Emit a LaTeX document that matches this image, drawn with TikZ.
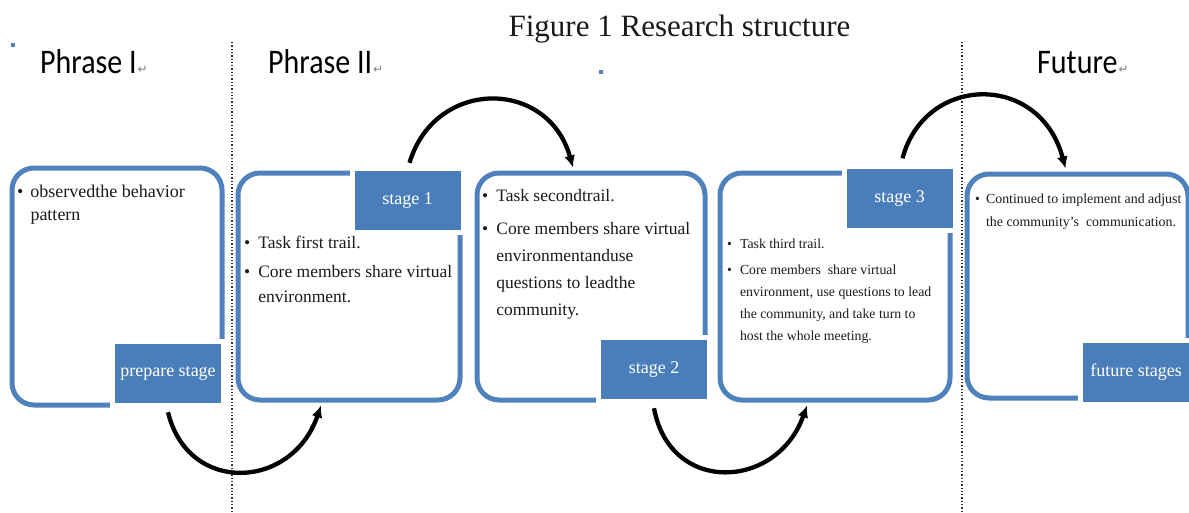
\documentclass[tikz,border=0pt]{standalone}
\usepackage{fontspec}
\setmainfont{Liberation Serif}
\newfontfamily\calibrifont{Carlito}
\newfontfamily\symfont{DejaVu Sans}
\usetikzlibrary{arrows.meta}
\definecolor{boxblue}{HTML}{4F81BD}
\definecolor{tagblue}{HTML}{4A7EBB}
\definecolor{inkgray}{HTML}{1A1A1A}
\newcommand{\retmark}{\hspace{1pt}{\symfont\fontsize{12}{12}\selectfont\color{gray}↵}}
\begin{document}
\begin{tikzpicture}[x=1pt,y=-1pt,
  panel/.style={draw=boxblue, line width=5pt, rounded corners=22pt, inner sep=0pt},
  tag/.style={fill=tagblue, text=white, inner sep=0pt, minimum width=106pt, minimum height=59pt,
    font=\fontsize{18}{20}\selectfont, preaction={draw=white, line width=10pt}},
  phase/.style={font=\calibrifont\fontsize{30}{30}\selectfont, text=black, inner sep=0pt, anchor=base west},
  body/.style={text=inkgray, inner sep=0pt, anchor=base west},
  divider/.style={dotted, line width=1.3pt, black!80},
  flow/.style={line width=4.3pt, -{Latex[length=12pt,width=11pt]}},
  marker/.style={fill=boxblue, inner sep=0pt, minimum size=4pt},
]
\useasboundingbox (0,0) rectangle (1189,512);

% dividers
\coordinate (d1t) at (232,42); \coordinate (d1b) at (232,512);
\coordinate (d2t) at (962,42); \coordinate (d2b) at (962,512);
\draw[divider] (d1t) -- (d1b);
\draw[divider] (d2t) -- (d2b);

% title and headings
\node[font=\fontsize{31}{31}\selectfont, text=inkgray, inner sep=0pt, anchor=base] (title) at (679.5,36) {Figure 1 Research structure};
\node[phase] (h1) at (40,73) {\scalebox{1}[1.15]{Phrase I}\retmark};
\node[phase] (h2) at (268,73) {\scalebox{1}[1.15]{Phrase II}\retmark};
\node[phase] (h3) at (1037,73) {\scalebox{1}[1.15]{Future}\retmark};
\node[marker] (m1) at (13,45) {};
\node[marker] (m2) at (601,72) {};

% panels
\node[panel, minimum width=210pt, minimum height=237pt] (b1) at (117,286.5) {};
\node[panel, minimum width=222pt, minimum height=227pt] (b2) at (349,286.5) {};
\node[panel, minimum width=228pt, minimum height=227pt] (b3) at (591,286.5) {};
\node[panel, minimum width=230pt, minimum height=227pt] (b4) at (835,286.5) {};
\node[panel, minimum width=221pt, minimum height=224pt] (b5) at (1077.5,286) {};

% tags
\node[tag] (l1) at (168,373.5) {prepare stage};
\node[tag] (l2) at (407.5,200.5) {stage 1};
\node[tag] (l3) at (654,369.5) {stage 2};
\node[tag] (l4) at (899.5,198) {stage 3};
\node[tag] (l5) at (1136,372) {future stages};

% texts
\node[body, font=\fontsize{18}{23}\selectfont] (t1) at (17,197)
  {\begin{tabular}[t]{@{}l@{\hspace{7pt}}l@{}}\textbullet & observedthe behavior\\ & pattern\end{tabular}};
\node[body, font=\fontsize{17.5}{25}\selectfont] (t2) at (244,248)
  {\begin{tabular}[t]{@{}l@{\hspace{8pt}}l@{}}\textbullet & Task first trail.\\[4pt]
   \textbullet & Core members share virtual\\ & environment.\end{tabular}};
\node[body, font=\fontsize{17.5}{27}\selectfont] (t3) at (482,201)
  {\begin{tabular}[t]{@{}l@{\hspace{8pt}}l@{}}\textbullet & Task secondtrail.\\[6pt]
   \textbullet & Core members share virtual\\ & environmentanduse\\ & questions to leadthe\\ & community.\end{tabular}};
\node[body, font=\fontsize{13.8}{22}\selectfont] (t4) at (727,248)
  {\begin{tabular}[t]{@{}l@{\hspace{8pt}}l@{}}\textbullet & Task third trail.\\[4pt]
   \textbullet & Core members\ \ share virtual\\ & environment, use questions to lead\\ & the community, and take turn to\\ & host the whole meeting.\end{tabular}};
\node[body, font=\fontsize{13.9}{23}\selectfont] (t5) at (975,203)
  {\begin{tabular}[t]{@{}l@{\hspace{6pt}}l@{}}\textbullet & Continued to implement and adjust\\ & the community’s\ \ communication.\end{tabular}};

% flows
\draw[flow] ([yshift=-9pt]l1.south) .. controls (188,495) and (292,490) .. ([xshift=-28pt,yshift=-3pt]b2.south);
\draw[flow] ([xshift=2pt,yshift=8pt]l2.north) .. controls (435,78) and (548,78) .. ([xshift=-18pt,yshift=3pt]b3.north);
\draw[flow] ([yshift=-9pt]l3.south) .. controls (670,495) and (777,490) .. ([xshift=-28pt,yshift=-3pt]b4.south);
\draw[flow] ([xshift=3pt,yshift=10pt]l4.north) .. controls (925,74) and (1040,72) .. ([xshift=-12pt,yshift=3pt]b5.north);
\end{tikzpicture}
\end{document}
